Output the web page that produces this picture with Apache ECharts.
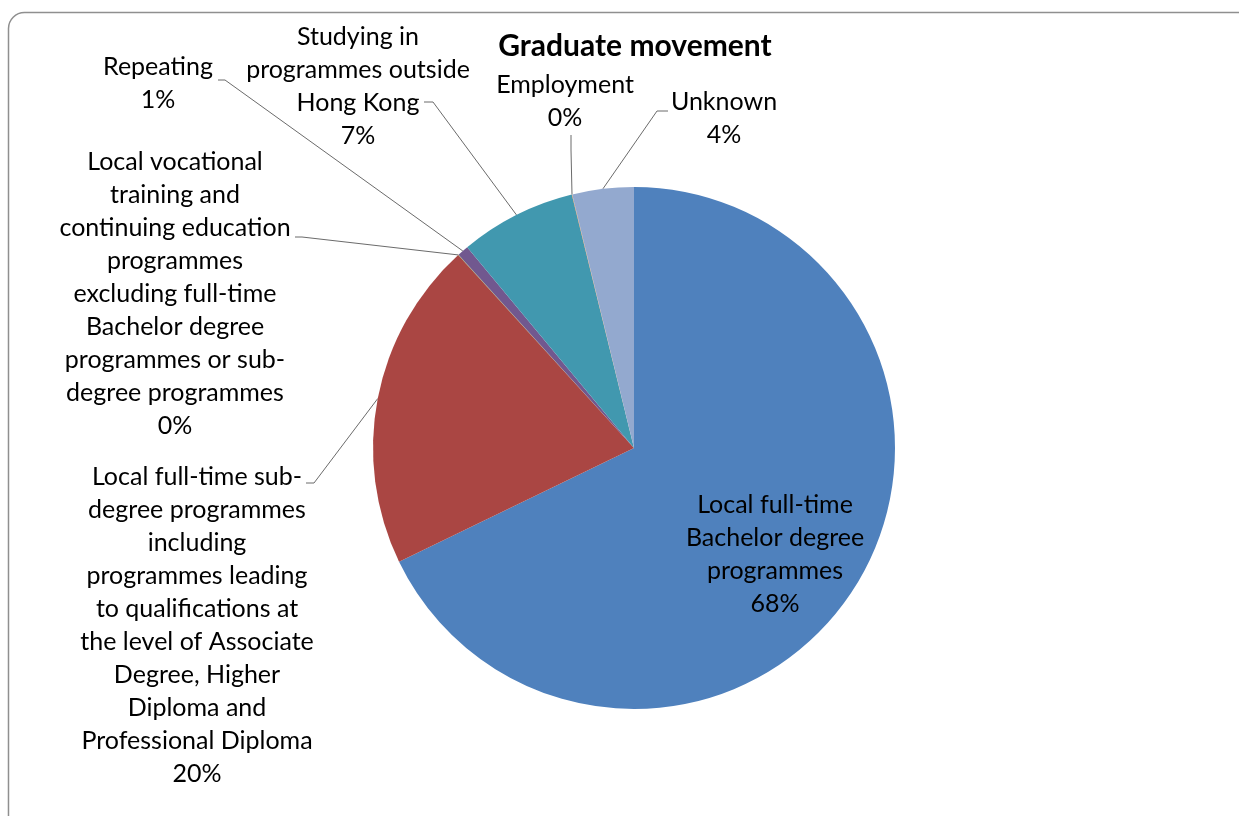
<!DOCTYPE html>
<html>
<head>
<meta charset="utf-8">
<title>Graduate movement</title>
<script src="https://cdn.jsdelivr.net/npm/echarts@6/dist/echarts.min.js"></script>
<style>
  html, body { margin: 0; padding: 0; background: #fff; }
  #chart { width: 1239px; height: 816px; }
</style>
</head>
<body>
<div id="chart"></div>
<script>
// Destinations of graduates, as shares of the cohort (%)
const categories = [
  'Local full-time\nBachelor degree\nprogrammes',
  'Local full-time sub-\ndegree programmes\nincluding\nprogrammes leading\nto qualifications at\nthe level of Associate\nDegree, Higher\nDiploma and\nProfessional Diploma',
  'Local vocational\ntraining and\ncontinuing education\nprogrammes\nexcluding full-time\nBachelor degree\nprogrammes or sub-\ndegree programmes',
  'Repeating',
  'Studying in\nprogrammes outside\nHong Kong',
  'Employment',
  'Unknown'
];
const shares = [67.8, 20.4, 0.03, 0.7, 7.2, 0.03, 3.8];
const colors = ['#4F81BD', '#AA4643', '#89A54E', '#71588F', '#4198AF', '#DB843D', '#93A9CF'];

// Where each label block sits (centre x, top y) and how its leader line bends
const labelSpots = [
  { x: 775, y: 488 },
  { x: 197, y: 460, elbow: [314, 483], end: [306, 483] },
  { x: 175, y: 145, elbow: [302, 237], end: [295, 237] },
  { x: 158, y: 50,  elbow: [225, 80],  end: [218, 80] },
  { x: 358, y: 20,  elbow: [433, 102], end: [424, 102] },
  { x: 565, y: 68,  elbow: [571, 150], end: [571, 135] },
  { x: 724, y: 85,  elbow: [657, 111], end: [668, 111] }
];

const FONT = 'Lato';

const chart = echarts.init(document.getElementById('chart'), null, { renderer: 'canvas' });

chart.setOption({
  backgroundColor: '#ffffff',
  animation: false,
  title: {
    text: 'Graduate movement',
    left: 630,
    top: 26,
    textAlign: 'center',
    textStyle: { fontFamily: FONT, fontSize: 30, fontWeight: 'bold', color: '#000' }
  },
  graphic: [{
    type: 'rect',
    shape: { x: 8.5, y: 12.5, width: 1260, height: 840, r: 16 },
    style: { fill: 'none', stroke: '#8f8f8f', lineWidth: 1.5 },
    silent: true,
    z: -1
  }],
  series: [{
    type: 'pie',
    center: [634, 448],
    radius: 261,
    startAngle: 90,
    clockwise: true,
    percentPrecision: 0,
    avoidLabelOverlap: false,
    color: colors,
    itemStyle: { borderWidth: 0 },
    emphasis: { disabled: true },
    label: {
      show: true,
      formatter: '{b}\n{d}%',
      fontFamily: FONT,
      fontSize: 25,
      lineHeight: 33,
      color: '#000',
      align: 'center'
    },
    labelLine: {
      show: true,
      length: 20,
      length2: 10,
      lineStyle: { color: '#6b6b6b', width: 1 }
    },
    labelLayout: function (params) {
      const spot = labelSpots[params.dataIndex];
      const out = { x: spot.x, y: spot.y, align: 'center', verticalAlign: 'top', hideOverlap: false };
      if (spot.elbow && params.labelLinePoints) {
        out.labelLinePoints = [params.labelLinePoints[0], spot.elbow, spot.end];
      }
      return out;
    },
    data: categories.map(function (name, i) {
      return {
        name: name,
        value: shares[i],
        labelLine: { show: i !== 0 }
      };
    })
  }]
});
</script>
</body>
</html>
